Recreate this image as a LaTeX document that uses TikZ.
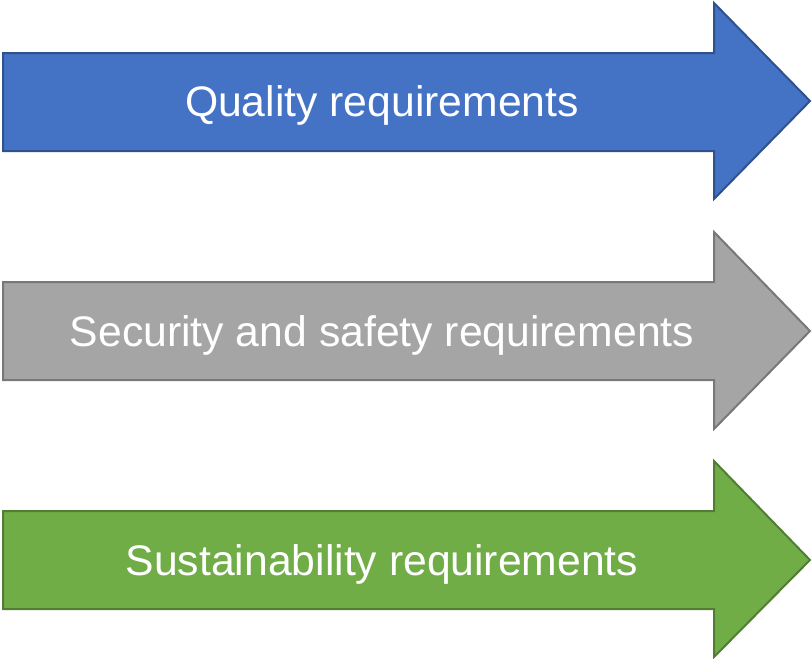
\documentclass[tikz,border=0pt]{standalone}
\usepackage{fontspec}
\setmainfont{Liberation Sans}
\definecolor{qblue}{HTML}{4472C4}
\definecolor{qblueb}{HTML}{2F528F}
\definecolor{sgray}{HTML}{A5A5A5}
\definecolor{sgrayb}{HTML}{787878}
\definecolor{ggreen}{HTML}{70AD47}
\definecolor{ggreenb}{HTML}{507E32}
\begin{document}
\begin{tikzpicture}[x=1pt,y=-1pt,
  bigarrow/.style={line width=2pt,line join=miter},
  lbl/.style={text=white,font=\fontsize{42.7}{50}\selectfont,anchor=base,inner sep=0pt}]
\useasboundingbox (0,0) rectangle (812,659);
% arrow 1
\draw[bigarrow,fill=qblue,draw=qblueb] (3,53) -- (714,53) -- (714,3) -- (810,101) -- (714,199) -- (714,151) -- (3,151) -- cycle;
\node[lbl] (q) at (382,116) {Quality requirements};
% arrow 2
\draw[bigarrow,fill=sgray,draw=sgrayb] (3,282) -- (714,282) -- (714,232) -- (810,331) -- (714,429) -- (714,380) -- (3,380) -- cycle;
\node[lbl] (s) at (382,346) {Security and safety requirements};
% arrow 3
\draw[bigarrow,fill=ggreen,draw=ggreenb] (3,511) -- (714,511) -- (714,461) -- (810,560) -- (714,657) -- (714,609) -- (3,609) -- cycle;
\node[lbl] (g) at (382,575) {Sustainability requirements};
\end{tikzpicture}
\end{document}
